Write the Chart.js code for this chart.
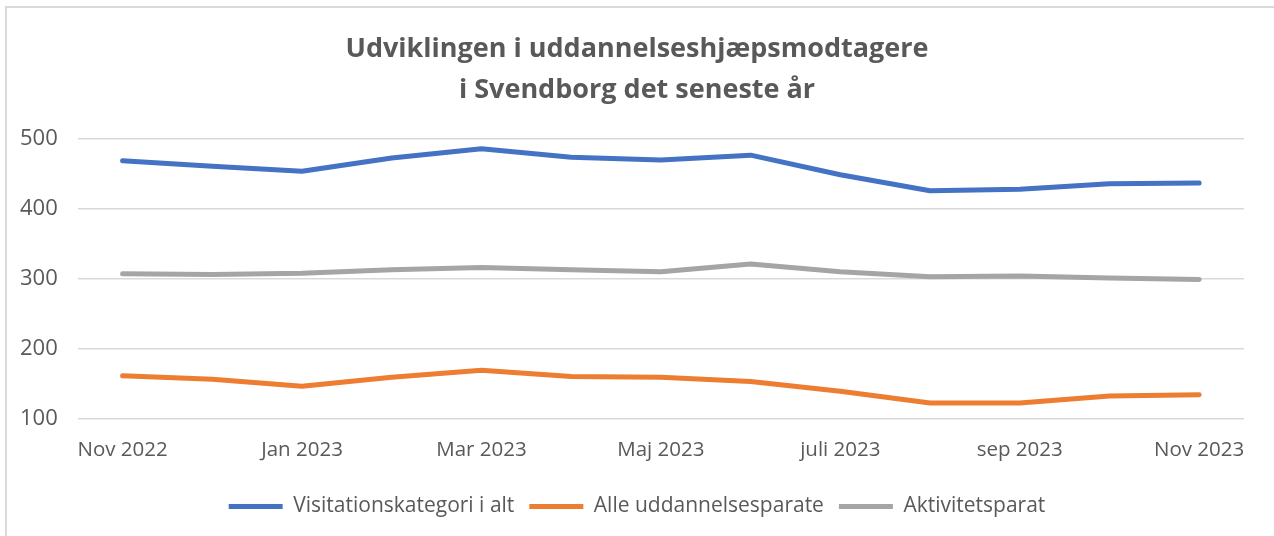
<!DOCTYPE html>
<html>
<head>
<meta charset="utf-8">
<script src="https://cdn.jsdelivr.net/npm/chart.js@4/dist/chart.umd.min.js"></script>
<style>
  body { margin: 0; background: #fff; overflow: hidden; }
  #wrap { position: relative; width: 1274px; height: 536px; overflow: hidden; }
  #frame { position: absolute; left: 5px; top: 6px; width: 1300px; height: 560px; border: 2px solid #d9d9d9; box-sizing: border-box; }
  canvas { position: absolute; left: 0; top: 0; }
</style>
</head>
<body>
<div id="wrap">
  <div id="frame"></div>
  <canvas id="lineChart" width="1274" height="536"></canvas>
</div>
<script>
  'use strict';

  var months = ['Nov 2022', 'Dec 2022', 'Jan 2023', 'Feb 2023', 'Mar 2023', 'Apr 2023', 'Maj 2023',
    'Jun 2023', 'juli 2023', 'aug 2023', 'sep 2023', 'okt 2023', 'Nov 2023'];

  var visitationIAlt = [469, 461, 454, 473, 486, 474, 470, 477, 449, 426, 428, 436, 437];
  var alleUddannelsesparate = [161, 156, 146, 159, 169, 160, 159, 153, 139, 122, 122, 132, 134];
  var aktivitetsparat = [307, 306, 308, 313, 316, 313, 310, 321, 310, 303, 304, 301, 299];

  var yTicks = [100, 200, 300, 400, 500];

  var textColor = '#595959';
  var fontFamily = '"Open Sans", Lato, sans-serif';

  function series(label, data, color) {
    return {
      label: label,
      data: data,
      borderColor: color,
      backgroundColor: color,
      borderWidth: 5,
      borderCapStyle: 'round',
      borderJoinStyle: 'round',
      pointRadius: 0,
      pointHoverRadius: 0,
      pointStyle: 'line',
      tension: 0
    };
  }

  var ctx = document.getElementById('lineChart').getContext('2d');
  var lineChart = new Chart(ctx, {
    type: 'line',
    data: {
      labels: months,
      datasets: [
        series('Visitationskategori i alt', visitationIAlt, '#4472C4'),
        series('Alle uddannelsesparate', alleUddannelsesparate, '#ED7D31'),
        series('Aktivitetsparat', aktivitetsparat, '#A5A5A5')
      ]
    },
    options: {
      responsive: false,
      animation: false,
      layout: { padding: { top: 29, left: 0, right: 0, bottom: 9 } },
      plugins: {
        title: {
          display: true,
          text: ['Udviklingen i uddannelseshjæpsmodtagere', 'i Svendborg det seneste år'],
          color: textColor,
          font: { family: fontFamily, size: 27, weight: 'bold', lineHeight: 1.52 },
          padding: { top: 0, bottom: 28 }
        },
        legend: {
          position: 'bottom',
          labels: {
            usePointStyle: true,
            pointStyleWidth: 54,
            color: textColor,
            font: { family: fontFamily, size: 21 },
            padding: 15
          }
        },
        tooltip: { enabled: false }
      },
      scales: {
        x: {
          offset: true,
          grid: { display: false, drawTicks: false },
          border: { display: false },
          afterFit: function(scale) {
            scale.paddingLeft = 0;
            scale.paddingRight = 0;
          },
          ticks: {
            autoSkip: false,
            maxRotation: 0,
            color: textColor,
            font: { family: fontFamily, size: 20.5 },
            padding: 19,
            callback: function(value, index) {
              return index % 2 === 0 ? months[index] : '';
            }
          }
        },
        y: {
          min: yTicks[0],
          max: yTicks[yTicks.length - 1],
          grid: { color: '#d9d9d9', lineWidth: 1.5, drawTicks: false },
          border: { display: false },
          afterBuildTicks: function(axis) {
            axis.ticks = yTicks.map(function(v) { return { value: v }; });
          },
          ticks: {
            color: textColor,
            font: { family: fontFamily, size: 22 },
            padding: 20
          }
        },
        // empty right-hand axis, only keeps space so title and legend stay centred
        yRight: {
          position: 'right',
          min: yTicks[0],
          max: yTicks[yTicks.length - 1],
          grid: { display: false, drawTicks: false },
          border: { display: false },
          ticks: { display: false },
          afterFit: function(axis) {
            axis.width = 30;
          }
        }
      }
    }
  });
</script>
</body>
</html>
